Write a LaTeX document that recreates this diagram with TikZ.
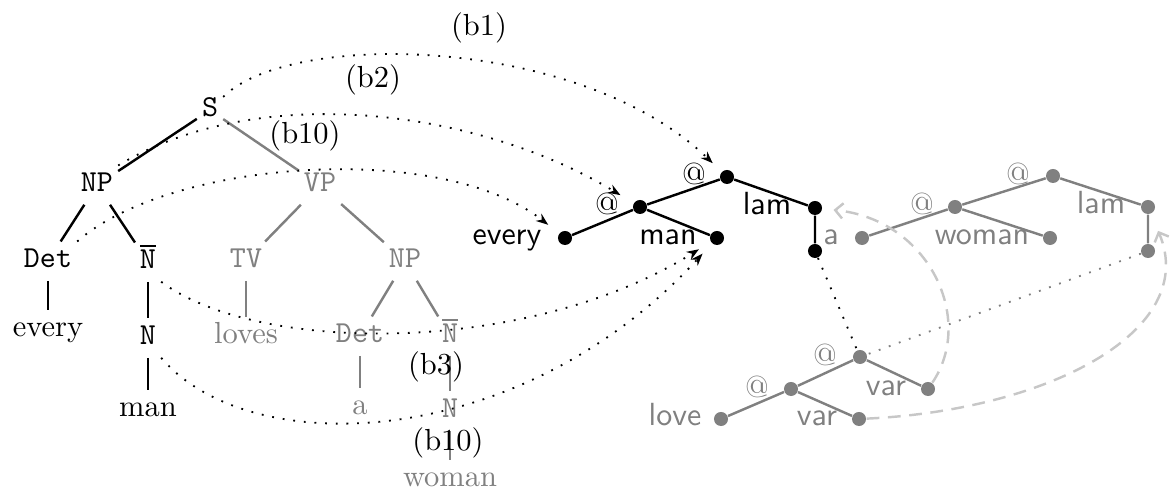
\documentclass[tikz,border=0pt]{standalone}
\usetikzlibrary{arrows.meta}
\definecolor{lg}{gray}{0.78}
\begin{document}
\begin{tikzpicture}[x=0.328pt,y=-0.328pt,
 tn/.style={inner sep=1.5pt,text height=7pt,text depth=2.5pt,anchor=base},
 gn/.style={tn,text=gray},
 te/.style={line width=0.8pt},
 ge/.style={line width=0.8pt,draw=gray},
 lab/.style={anchor=base,inner sep=0pt},
 bd/.style={circle,fill=black,inner sep=0pt,minimum size=4.6pt},
 gd/.style={circle,fill=gray,inner sep=0pt,minimum size=4.6pt},
 sl/.style={anchor=base,inner sep=0pt,font=\sffamily\fontsize{10.5}{12}\selectfont},
 atl/.style={inner sep=0pt},
 dots/.style={line width=0.6pt,dash pattern=on 0.6pt off 2.9pt},
 tip/.style={-{Stealth[length=4pt,width=3pt]}},
 dsh/.style={line width=0.8pt,draw=lg,dash pattern=on 4.2pt off 2.8pt,-{Straight Barb[length=2.5pt,width=5pt]}}]
\useasboundingbox (0,0) rectangle (1176,492);
% ---- left syntax tree ----
\node[tn] (S) at (210,117) {\texttt{S}};
\node[tn] (NP) at (97,192) {\texttt{NP}};
\node[gn] (VP) at (320,192) {\texttt{VP}};
\node[tn] (Det) at (48,268) {\texttt{Det}};
\node[tn] (Nb) at (148,269) {$\overline{\mathtt{N}}$};
\node[gn] (TV) at (246,268) {\texttt{TV}};
\node[gn] (NPb) at (405,268) {\texttt{NP}};
\node[tn] (every) at (48,337) {every};
\node[tn] (N) at (148,345) {\texttt{N}};
\node[gn] (loves) at (246,344) {loves};
\node[gn] (Detb) at (360,343) {\texttt{Det}};
\node[gn] (Nbb) at (450,343) {$\overline{\mathtt{N}}$};
\node[tn] (man) at (148,417) {man};
\node[gn] (a) at (360,415) {a};
\node[gn] (Nc) at (450,418) {\texttt{N}};
\node[gn] (woman) at (450,487) {woman};
\draw[te] (S) -- (NP);
\draw[te] (NP) -- (Det);
\draw[te] (NP) -- (Nb);
\draw[te] (Det) -- (every);
\draw[te] (Nb) -- (N);
\draw[te] (N) -- (man);
\draw[ge] (S) -- (VP);
\draw[ge] (VP) -- (TV);
\draw[ge] (VP) -- (NPb);
\draw[ge] (TV) -- (loves);
\draw[ge] (NPb) -- (Detb);
\draw[ge] (NPb) -- (Nbb);
\draw[ge] (Detb) -- (a);
\draw[ge] (Nbb) -- (Nc);
\draw[ge] (Nc) -- (woman);
% ---- black lambda tree ----
\node[bd] (t1) at (727,177) {};
\node[bd] (t2) at (640,207) {};
\node[bd] (tev) at (565,238) {};
\node[bd] (tman) at (717,238) {};
\node[bd] (tlam) at (815,208) {};
\node[bd] (tlc) at (815,251) {};
\node[atl] (l1) at (694,174) {@};
\node[atl] (l2) at (607,204) {@};
\node[sl] (wev) at (507,245) {every};
\node[sl] (wman) at (668,245) {man};
\node[sl] (wlam) at (767,215) {lam};
\draw[te] (tev) -- (t2) -- (t1) -- (tlam) -- (tlc);
\draw[te] (t2) -- (tman);
% ---- gray lambda tree ----
\node[gd] (g1) at (1053,176) {};
\node[gd] (g2) at (955,207) {};
\node[gd] (ga) at (862,238) {};
\node[gd] (gw) at (1050,238) {};
\node[gd] (glam) at (1148,207) {};
\node[gd] (glc) at (1148,251) {};
\node[atl,text=gray] (m1) at (1018,174) {@};
\node[atl,text=gray] (m2) at (922,204) {@};
\node[sl,text=gray] (wa) at (831,245) {a};
\node[sl,text=gray] (ww) at (982,245) {woman};
\node[sl,text=gray] (wglam) at (1101,214) {lam};
\draw[ge] (ga) -- (g2) -- (g1) -- (glam) -- (glc);
\draw[ge] (g2) -- (gw);
% ---- bottom gray tree ----
\node[gd] (b1) at (860,357) {};
\node[gd] (b2) at (791,389) {};
\node[gd] (blove) at (721,419) {};
\node[gd] (bvar) at (859,419) {};
\node[gd] (bvar2) at (928,389) {};
\node[atl,text=gray] (n1) at (825,355) {@};
\node[atl,text=gray] (n2) at (757,387) {@};
\node[sl,text=gray] (wlove) at (675,426) {love};
\node[sl,text=gray] (wvar) at (817,426) {var};
\node[sl,text=gray] (wvar2) at (886,396) {var};
\draw[ge] (blove) -- (b2) -- (b1) -- (bvar2);
\draw[ge] (b2) -- (bvar);
% ---- dotted links ----
\draw[dots,tip,shorten >=4pt] (S) .. controls (290,30) and (580,35) .. (t1);
\draw[dots,tip,shorten >=5pt] (NP.north east) .. controls (260,80) and (480,110) .. (t2);
\draw[dots,tip,shorten >=4.5pt] (Det.north east) .. controls (170,160) and (440,140) .. (tev);
\draw[dots,tip,shorten >=4.5pt] (Nb.south east) .. controls (260,355) and (530,355) .. (tman);
\draw[dots,tip,shorten >=4.5pt] (N.south east) .. controls (250,462) and (520,452) .. (tman);
\draw[dots] (tlc) -- (b1);
\draw[dots,draw=gray] (glc) -- (b1);
% ---- dashed links ----
\draw[dsh,shorten >=3.6pt] (bvar2) .. controls (975,320) and (930,220) .. (tlam);
\draw[dsh,shorten >=6pt] (bvar) .. controls (1050,410) and (1200,330) .. (glam);
% ---- labels ----
\node[lab] (lb1) at (479,36) {(b1)};
\node[lab] (lb2) at (373,88) {(b2)};
\node[lab] (lb10) at (305,144) {(b10)};
\node[lab] (lb3) at (436,375) {(b3)};
\node[lab] (lb10b) at (448,451) {(b10)};
\end{tikzpicture}
\end{document}
